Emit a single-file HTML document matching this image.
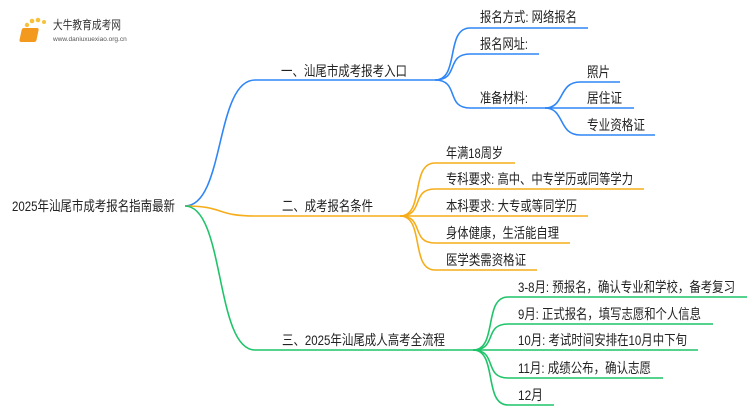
<!DOCTYPE html>
<html><head><meta charset="utf-8"><style>
html,body{margin:0;padding:0;background:#fff;}
svg text{font-family:"Liberation Sans","Noto Sans CJK SC",sans-serif;font-size:14px;fill:#222;}
</style></head><body>
<svg width="750" height="410" viewBox="0 0 750 410" xmlns="http://www.w3.org/2000/svg">
<g>
<circle cx="24" cy="32" r="2" fill="#f7c23a"/><circle cx="27" cy="25" r="2.2" fill="#f7c23a"/><circle cx="32" cy="21" r="2.3" fill="#f7c23a"/><circle cx="38" cy="20" r="2.3" fill="#f7c23a"/><circle cx="44" cy="22" r="2" fill="#f7c23a"/><circle cx="22" cy="40" r="1.6" fill="#f7c23a"/>
<rect x="28" y="28" width="17" height="14" rx="2" fill="#f39a1e" transform="skewX(-12)"/>
<text x="53" y="29" style="font-size:12px;fill:#333" textLength="68" lengthAdjust="spacingAndGlyphs">大牛教育成考网</text>
<text x="53" y="41" style="font-size:6.5px;fill:#555">www.daniuxuexiao.org.cn</text>
</g>
<text x="12" y="211" textLength="163" lengthAdjust="spacingAndGlyphs">2025年汕尾市成考报名指南最新</text>
<g fill="none" stroke-width="1.6">
<g stroke="#2f86f6">
<path d="M185 206 C225 206 215 80 255 80 L435 80"/>
<path d="M435 80 C460 80 445 28 470 28 L588 28"/>
<path d="M435 80 C460 80 445 54 470 54 L539 54"/>
<path d="M435 80 C460 80 445 108 470 108 L545 108"/>
<path d="M545 108 C565 108 558 82 580 82 L620 82"/>
<path d="M545 108 L634 108"/>
<path d="M545 108 C565 108 558 135 580 135 L655 135"/>
</g>
<g stroke="#f6ad1a">
<path d="M185 206 C225 206 215 216 255 216 L400 216"/>
<path d="M400 216 C425 216 410 163 435 163 L515 163"/>
<path d="M400 216 C425 216 410 189 435 189 L644 189"/>
<path d="M400 216 L588 216"/>
<path d="M400 216 C425 216 410 243 435 243 L570 243"/>
<path d="M400 216 C425 216 410 270 435 270 L537 270"/>
</g>
<g stroke="#1fc46a">
<path d="M185 206 C225 206 215 350 255 350 L473 350"/>
<path d="M473 350 C498 350 483 297 508 297 L747 297"/>
<path d="M473 350 C498 350 483 324 508 324 L713 324"/>
<path d="M473 350 L698 350"/>
<path d="M473 350 C498 350 483 378 508 378 L663 378"/>
<path d="M473 350 C498 350 483 405 508 405 L554 405"/>
</g>
</g>
<text x="281" y="76" textLength="126" lengthAdjust="spacingAndGlyphs">一、汕尾市成考报考入口</text>
<text x="480" y="22" textLength="97" lengthAdjust="spacingAndGlyphs">报名方式: 网络报名</text>
<text x="480" y="49" textLength="48" lengthAdjust="spacingAndGlyphs">报名网址:</text>
<text x="480" y="103" textLength="48" lengthAdjust="spacingAndGlyphs">准备材料:</text>
<text x="587" y="77" textLength="23" lengthAdjust="spacingAndGlyphs">照片</text>
<text x="587" y="103" textLength="35" lengthAdjust="spacingAndGlyphs">居住证</text>
<text x="587" y="130" textLength="58" lengthAdjust="spacingAndGlyphs">专业资格证</text>
<text x="282" y="211" textLength="91" lengthAdjust="spacingAndGlyphs">二、成考报名条件</text>
<text x="446" y="158" textLength="57" lengthAdjust="spacingAndGlyphs">年满18周岁</text>
<text x="446" y="184" textLength="187" lengthAdjust="spacingAndGlyphs">专科要求: 高中、中专学历或同等学力</text>
<text x="446" y="211" textLength="131" lengthAdjust="spacingAndGlyphs">本科要求: 大专或等同学历</text>
<text x="446" y="238" textLength="113" lengthAdjust="spacingAndGlyphs">身体健康，生活能自理</text>
<text x="446" y="265" textLength="80" lengthAdjust="spacingAndGlyphs">医学类需资格证</text>
<text x="282" y="345" textLength="163" lengthAdjust="spacingAndGlyphs">三、2025年汕尾成人高考全流程</text>
<text x="518" y="292" textLength="217" lengthAdjust="spacingAndGlyphs">3-8月: 预报名，确认专业和学校，备考复习</text>
<text x="518" y="319" textLength="183" lengthAdjust="spacingAndGlyphs">9月: 正式报名，填写志愿和个人信息</text>
<text x="518" y="345" textLength="169" lengthAdjust="spacingAndGlyphs">10月: 考试时间安排在10月中下旬</text>
<text x="518" y="373" textLength="133" lengthAdjust="spacingAndGlyphs">11月: 成绩公布，确认志愿</text>
<text x="518" y="400" textLength="25" lengthAdjust="spacingAndGlyphs">12月</text>
</svg>
</body></html>
